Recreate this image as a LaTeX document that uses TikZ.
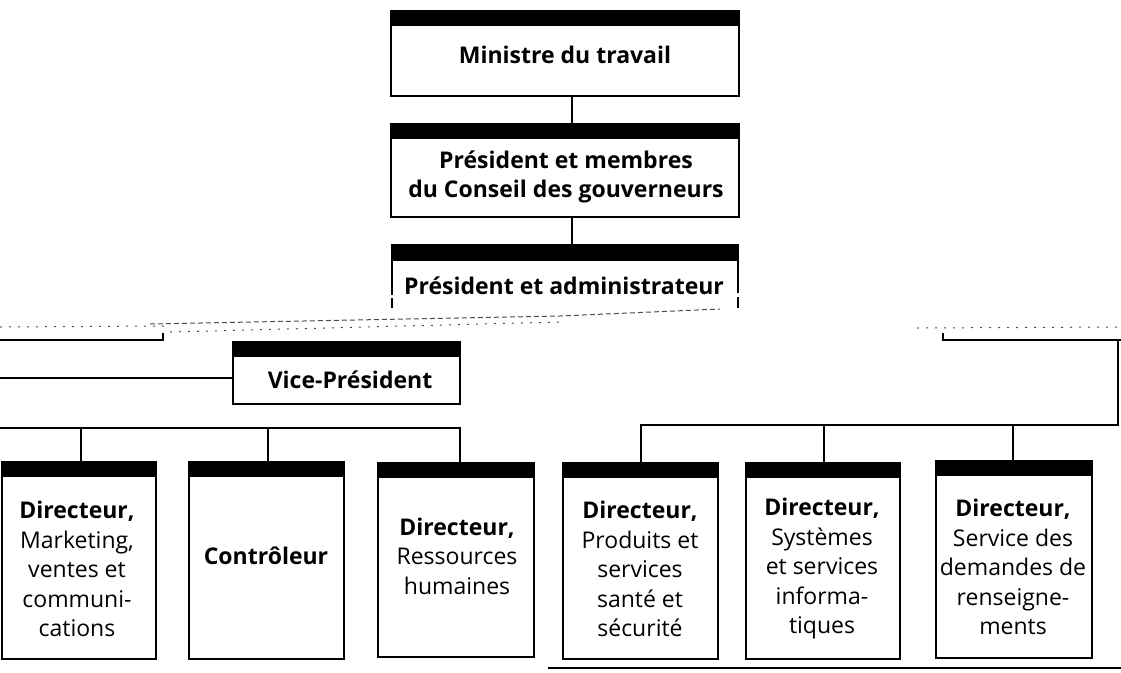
\documentclass[tikz,border=0pt]{standalone}
\usepackage{fontspec}
\setmainfont{Open Sans}
\begin{document}
\begin{tikzpicture}[x=1pt,y=-1pt,line width=1.8pt,
  box/.style={draw, rectangle, inner sep=0pt, anchor=north west, line width=1.8pt,
    path picture={\fill (path picture bounding box.north west) rectangle ([yshift=-15pt]path picture bounding box.north east);}},
  lbl/.style={align=center, font=\fontsize{23}{29.5}\selectfont, inner sep=0pt},
  blbl/.style={lbl, font=\bfseries\fontsize{23}{29.5}\selectfont},
  conn/.style={line width=1.8pt},
  noise/.style={line width=1pt, dash pattern=on 2pt off 7pt, black!70}]
\useasboundingbox (0,0) rectangle (1121,672);

% top boxes
\node[box, minimum width=348pt, minimum height=85pt] (min) at (390,10) {};
\node[blbl] (mint) at (565,55) {Ministre du travail};
\node[box, minimum width=348pt, minimum height=93pt] (pres) at (390,123) {};
\node[blbl] (prest) at (566,177) {Président et membres\\du Conseil des gouverneurs};

% partial box
\node[inner sep=0pt, anchor=north west, minimum width=344pt, minimum height=64pt] (pac) at (392,244) {};
\fill (pac.north west) rectangle ([yshift=-17pt]pac.north east);
\draw[conn] (pac.north west) -- ([yshift=-51pt]pac.north west);
\draw[conn] ([yshift=-54pt]pac.north west) -- ([yshift=-64pt]pac.north west);
\draw[conn] (pac.north east) -- ([yshift=-49pt]pac.north east);
\draw[conn] ([yshift=-53pt]pac.north east) -- ([yshift=-64pt]pac.north east);
\node[blbl] (pact) at (564,286) {Président et administrateur};

\coordinate (spine) at (572,0);
\draw[conn] (min.south -| spine) -- (pres.north -| spine);
\draw[conn] (pres.south -| spine) -- (pac.north -| spine);

% noisy band
\draw[noise] (0,327) -- (165,326);
\draw[noise, dash pattern=on 5pt off 3pt] (150,324) -- (560,316) -- (720,309);
\draw[noise] (170,332) -- (560,322);
\draw[noise] (917,328) -- (1121,327);

% left upper line
\coordinate (la) at (0,340);
\coordinate (lb) at (163,340);
\coordinate (lc) at (163,333);
\draw[conn] (la) -- (lb) -- (lc);

% right upper line
\coordinate (ra) at (943,333);
\coordinate (rb) at (943,340);
\coordinate (rc) at (1121,340);
\draw[conn] (ra) -- (rb) -- (rc);

% vice-president
\node[box, minimum width=227pt, minimum height=62pt] (vp) at (232,341) {};
\node[blbl] (vpt) at (350,380) {Vice-Président};
\coordinate (lv) at (0,378);
\draw[conn] (lv) -- (lv -| vp.west);

% bottom boxes left
\node[box, minimum width=154pt, minimum height=197pt] (b1) at (1,461) {};
\node[box, minimum width=155pt, minimum height=197pt] (b2) at (188,461) {};
\node[box, minimum width=156pt, minimum height=194pt] (b3) at (377,462) {};
\node[lbl] (b1t) at (77,569) {\textbf{Directeur,}\\Marketing,\\ventes et\\communi-\\cations};
\node[blbl] (b2t) at (266,556) {Contrôleur};
\node[lbl] (b3t) at (457,556) {\textbf{Directeur,}\\Ressources\\humaines};

\coordinate (lbus0) at (0,428);
\coordinate (lbus1) at (81,428);
\coordinate (lbus2) at (268,428);
\coordinate (lbus3) at (460,428);
\draw[conn] (lbus0) -- (lbus3) -- (lbus3 |- b3.north);
\draw[conn] (lbus1) -- (lbus1 |- b1.north);
\draw[conn] (lbus2) -- (lbus2 |- b2.north);

% bottom boxes right
\node[box, minimum width=155pt, minimum height=196pt] (b4) at (562,462) {};
\node[box, minimum width=154pt, minimum height=196pt] (b5) at (745,462) {};
\node[box, minimum width=156pt, minimum height=197pt] (b6) at (935,460) {};
\node[lbl] (b4t) at (640,569) {\textbf{Directeur,}\\Produits et\\services\\santé et\\sécurité};
\node[lbl] (b5t) at (822,569) {\textbf{Directeur,}\\Systèmes\\et services\\informa-\\tiques};
\node[lbl] (b6t) at (1013,567) {\textbf{Directeur,}\\Service des\\demandes de\\renseigne-\\ments};

\coordinate (rv) at (1118,340);
\coordinate (rbus3) at (1118,425);
\coordinate (rbus0) at (641,425);
\coordinate (rbus1) at (824,425);
\coordinate (rbus2) at (1013,425);
\draw[conn] (rv) -- (rbus3) -- (rbus0) -- (rbus0 |- b4.north);
\draw[conn] (rbus1) -- (rbus1 |- b5.north);
\draw[conn] (rbus2) -- (rbus2 |- b6.north);

% bottom rule
\coordinate (ba) at (548,668);
\coordinate (bb) at (1121,668);
\draw[conn] (ba) -- (bb);
\end{tikzpicture}
\end{document}
